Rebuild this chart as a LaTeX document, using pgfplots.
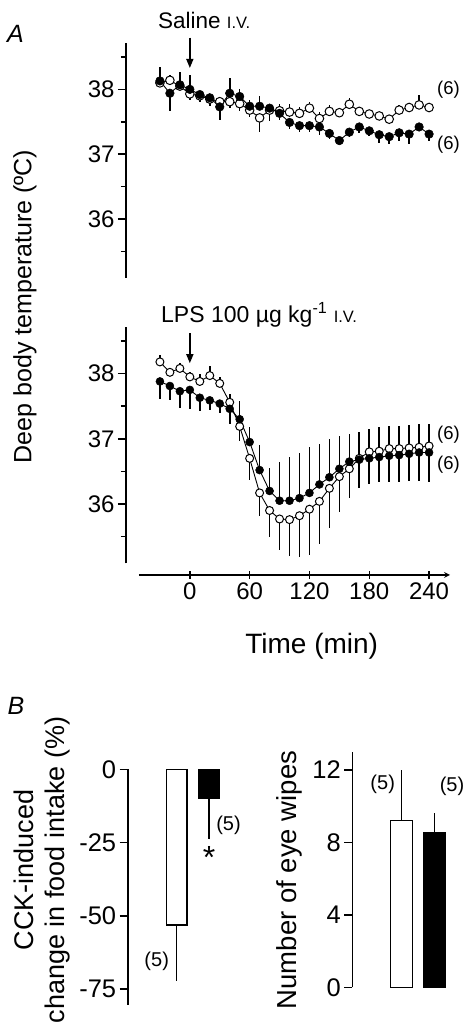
\documentclass[border=0pt]{standalone}
\usepackage{pgfplots}
\pgfplotsset{compat=1.18}
\usepackage{pgfplotstable}
\usepackage{fontspec}
\setmainfont{Liberation Sans}
\usetikzlibrary{arrows.meta}

\pgfplotstableread{
t o oep oem f fep fem
-30 38.10 0.00 0 38.13 0.22 0
-20 38.14 0.08 0 37.94 0 0.28
-10 38.05 0.00 0 38.07 0.20 0
0 37.93 0 0.10 38.00 0.22 0
10 37.90 0 0 37.92 0 0.12
20 37.85 0 0 37.87 0 0.12
30 37.81 0.05 0 37.73 0 0.20
40 37.81 0 0.10 37.94 0.23 0
50 37.78 0 0.12 37.89 0.12 0
60 37.68 0 0.10 37.74 0.10 0
70 37.56 0 0.22 37.74 0.15 0
80 37.68 0.05 0 37.71 0 0.20
90 37.67 0.10 0 37.63 0 0.10
100 37.65 0.12 0 37.49 0 0.10
110 37.63 0.10 0 37.44 0 0.10
120 37.71 0.10 0 37.44 0 0.10
130 37.55 0.10 0 37.42 0 0.12
140 37.66 0.10 0 37.32 0 0.08
150 37.64 0.05 0 37.21 0 0.05
160 37.77 0.10 0 37.34 0 0.08
170 37.66 0.05 0 37.42 0 0.10
180 37.62 0.05 0 37.36 0 0.08
190 37.59 0.05 0 37.30 0 0.13
200 37.54 0.05 0 37.27 0 0.12
210 37.68 0.08 0 37.33 0 0.12
220 37.72 0.05 0 37.31 0 0.15
230 37.76 0.15 0 37.42 0 0.05
240 37.72 0.05 0 37.31 0 0.10
}\topdata

\pgfplotstableread{
t o oep oem f fep fem
-30 38.18 0.11 0 37.88 0 0.27
-20 38.02 0.06 0 37.81 0 0.22
-10 38.08 0.08 0 37.73 0 0.25
0 37.95 0.08 0 37.75 0 0.30
10 37.88 0.12 0 37.63 0 0.20
20 37.97 0.15 0 37.59 0 0.15
30 37.85 0.10 0 37.54 0 0.15
40 37.56 0.13 0 37.46 0 0.23
50 37.19 0 0.22 37.30 0.28 0
60 36.70 0 0.33 36.95 0.23 0
70 36.17 0 0.36 36.52 0.38 0
80 35.90 0 0.40 36.20 0.35 0
90 35.77 0 0.47 36.05 0.60 0
100 35.76 0 0.56 36.05 0.67 0
110 35.82 0 0.64 36.09 0.69 0
120 35.92 0 0.70 36.17 0.70 0
130 36.04 0 0.66 36.30 0.62 0
140 36.24 0 0.61 36.41 0.59 0
150 36.42 0 0.54 36.54 0.51 0
160 36.54 0 0.45 36.65 0.43 0
170 36.70 0.40 0 36.68 0 0.44
180 36.80 0.35 0 36.70 0 0.40
190 36.81 0.37 0 36.72 0 0.38
200 36.85 0.35 0 36.74 0 0.40
210 36.85 0.35 0 36.75 0 0.41
220 36.86 0.35 0 36.77 0 0.42
230 36.87 0.35 0 36.79 0 0.44
240 36.89 0.33 0 36.79 0 0.45
}\botdata

\pgfplotsset{
  common/.style={
    scale only axis, clip=false,
    axis y line=left,
    axis line style={-, line width=1.6pt},
    tick align=outside,
    major tick length=8pt, minor tick length=5pt,
    every tick/.style={black, line width=1.5pt},
  },
  panelA/.style={
    common,
    width=311pt, xmin=-51, xmax=261, ymin=35.09, ymax=38.72,
    axis y line shift=13pt,
    ytick={36,37,38}, yticklabels={36,37,38},
    minor ytick={35.5,36.5,37.5,38.5},
    yticklabel style={font=\fontsize{24}{28}\selectfont},
  },
  openser/.style={black, line width=0.9pt, mark=*, mark size=#1,
    mark options={fill=white, draw=black, line width=1pt},
    error bars/.cd, y dir=both, y explicit, error mark=none,
    error bar style={line width=1.6pt}},
  fillser/.style={black, line width=0.9pt, mark=*, mark size=#1,
    mark options={fill=black, draw=black, line width=0.5pt},
    error bars/.cd, y dir=both, y explicit, error mark=none,
    error bar style={line width=1.6pt}},
}

\begin{document}
\begin{tikzpicture}[x=1pt,y=1pt]
\useasboundingbox (0,0) rectangle (464,1029);

% ---------- Panel A, saline ----------
\begin{axis}[panelA, axis x line=none, at={(139pt,751pt)}, anchor=south west, height=235.3pt]
\addplot[openser=4.3pt] table[x=t, y=o, y error plus=oep, y error minus=oem] {\topdata};
\addplot[fillser=4.3pt] table[x=t, y=f, y error plus=fep, y error minus=fem] {\topdata};
\draw[line width=1.5pt, -{Triangle[length=9pt,width=7pt]}] (axis cs:0,38.80) -- (axis cs:0,38.33);
\end{axis}

% ---------- Panel A, LPS ----------
\begin{axis}[panelA, at={(139pt,465.7pt)}, anchor=south west, height=236.6pt,
  axis x line=bottom, axis x line shift=11.7pt,
  xtick={0,60,120,180,240}, xticklabels={0,60,120,180,240},
  xticklabel style={font=\fontsize{24}{28}\selectfont},
  ]
\addplot[openser=4pt] table[x=t, y=o, y error plus=oep, y error minus=oem] {\botdata};
\addplot[fillser=4pt] table[x=t, y=f, y error plus=fep, y error minus=fem] {\botdata};
\draw[line width=1.5pt, -{Triangle[length=9pt,width=7pt]}] (axis cs:0,38.62) -- (axis cs:0,38.16);
\end{axis}

% ---------- Panel B, food intake ----------
\begin{axis}[common, axis x line=none, at={(127.7pt,24pt)}, anchor=south west,
  width=110pt, height=235.7pt, xmin=0, xmax=110, ymin=-80.4, ymax=0,
  ytick={-75,-50,-25,0}, yticklabels={-75,-50,-25,0},
  yticklabel style={font=\fontsize{25.5}{30}\selectfont},
  ]
\addplot[ybar, bar width=20.5, fill=white, draw=black, line width=1.5pt,
  error bars/.cd, y dir=both, y explicit, error mark=none,
  error bar style={line width=1.5pt}]
  coordinates {(49,-53.1) -= (0,19.1)};
\addplot[ybar, bar width=20.5, fill=black, draw=black, line width=1.5pt,
  error bars/.cd, y dir=both, y explicit, error mark=none,
  error bar style={line width=1.5pt}]
  coordinates {(81.5,-9.9) -= (0,14.0)};
\node[font=\fontsize{20}{24}\selectfont] at (axis cs:29,-65.6) {(5)};
\node[font=\fontsize{20}{24}\selectfont] at (axis cs:100.8,-19.0) {(5)};
\node[font=\fontsize{32}{36}\selectfont, inner sep=0pt, anchor=north] at (axis cs:81.5,-26.3) {*};
\end{axis}

% ---------- Panel B, eye wipes ----------
\begin{axis}[common, axis x line=none, at={(352.3pt,41.7pt)}, anchor=south west,
  width=111.7pt, height=235.6pt, xmin=0, xmax=111.7, ymin=0, ymax=13,
  ytick={0,4,8,12}, yticklabels={0,4,8,12},
  yticklabel style={font=\fontsize{25.5}{30}\selectfont},
  ]
\addplot[ybar, bar width=22, fill=white, draw=black, line width=1.5pt,
  error bars/.cd, y dir=both, y explicit, error mark=none,
  error bar style={line width=1.5pt}]
  coordinates {(49.4,9.2) += (0,2.8)};
\addplot[ybar, bar width=22, fill=black, draw=black, line width=1.5pt,
  error bars/.cd, y dir=both, y explicit, error mark=none,
  error bar style={line width=1.5pt}]
  coordinates {(82,8.54) += (0,1.06)};
\node[font=\fontsize{20}{24}\selectfont] at (axis cs:30.4,11.18) {(5)};
\node[font=\fontsize{20}{24}\selectfont, anchor=west, inner sep=0pt] at (axis cs:87.3,11.1) {(5)};
\end{axis}

% ---------- texts ----------
\node[font=\fontsize{25}{30}\selectfont\itshape] at (15.5,995.5) {A};
\node[font=\fontsize{25}{30}\selectfont\itshape] at (16,323) {B};
\node[anchor=west, inner sep=0pt, font=\fontsize{22.5}{26}\selectfont] at (158,1009) {Saline {\fontsize{16.5}{20}\selectfont I.V.}};
\node[anchor=west, inner sep=0pt, font=\fontsize{23}{27}\selectfont] at (161,714) {LPS 100 µg kg\textsuperscript{-1} {\fontsize{16.5}{20}\selectfont I.V.}};
\node[anchor=west, inner sep=0pt, font=\fontsize{18.5}{22}\selectfont] at (437,939) {(6)};
\node[anchor=west, inner sep=0pt, font=\fontsize{18.5}{22}\selectfont] at (437,884) {(6)};
\node[anchor=west, inner sep=0pt, font=\fontsize{18.5}{22}\selectfont] at (437,594) {(6)};
\node[anchor=west, inner sep=0pt, font=\fontsize{18.5}{22}\selectfont] at (437,564) {(6)};
\node[font=\fontsize{25}{30}\selectfont, rotate=90] at (25,722.5) {Deep body temperature (ºC)};
\node[font=\fontsize{28}{32}\selectfont] at (311.7,382.3) {Time (min)};
\node[font=\fontsize{27}{32}\selectfont, rotate=90] at (24,159) {CCK-induced};
\node[font=\fontsize{27}{32}\selectfont, rotate=90] at (58,159) {change in food intake (\%)};
\node[font=\fontsize{27.5}{32}\selectfont, rotate=90] at (289.3,149) {Number of eye wipes};
\end{tikzpicture}
\end{document}
